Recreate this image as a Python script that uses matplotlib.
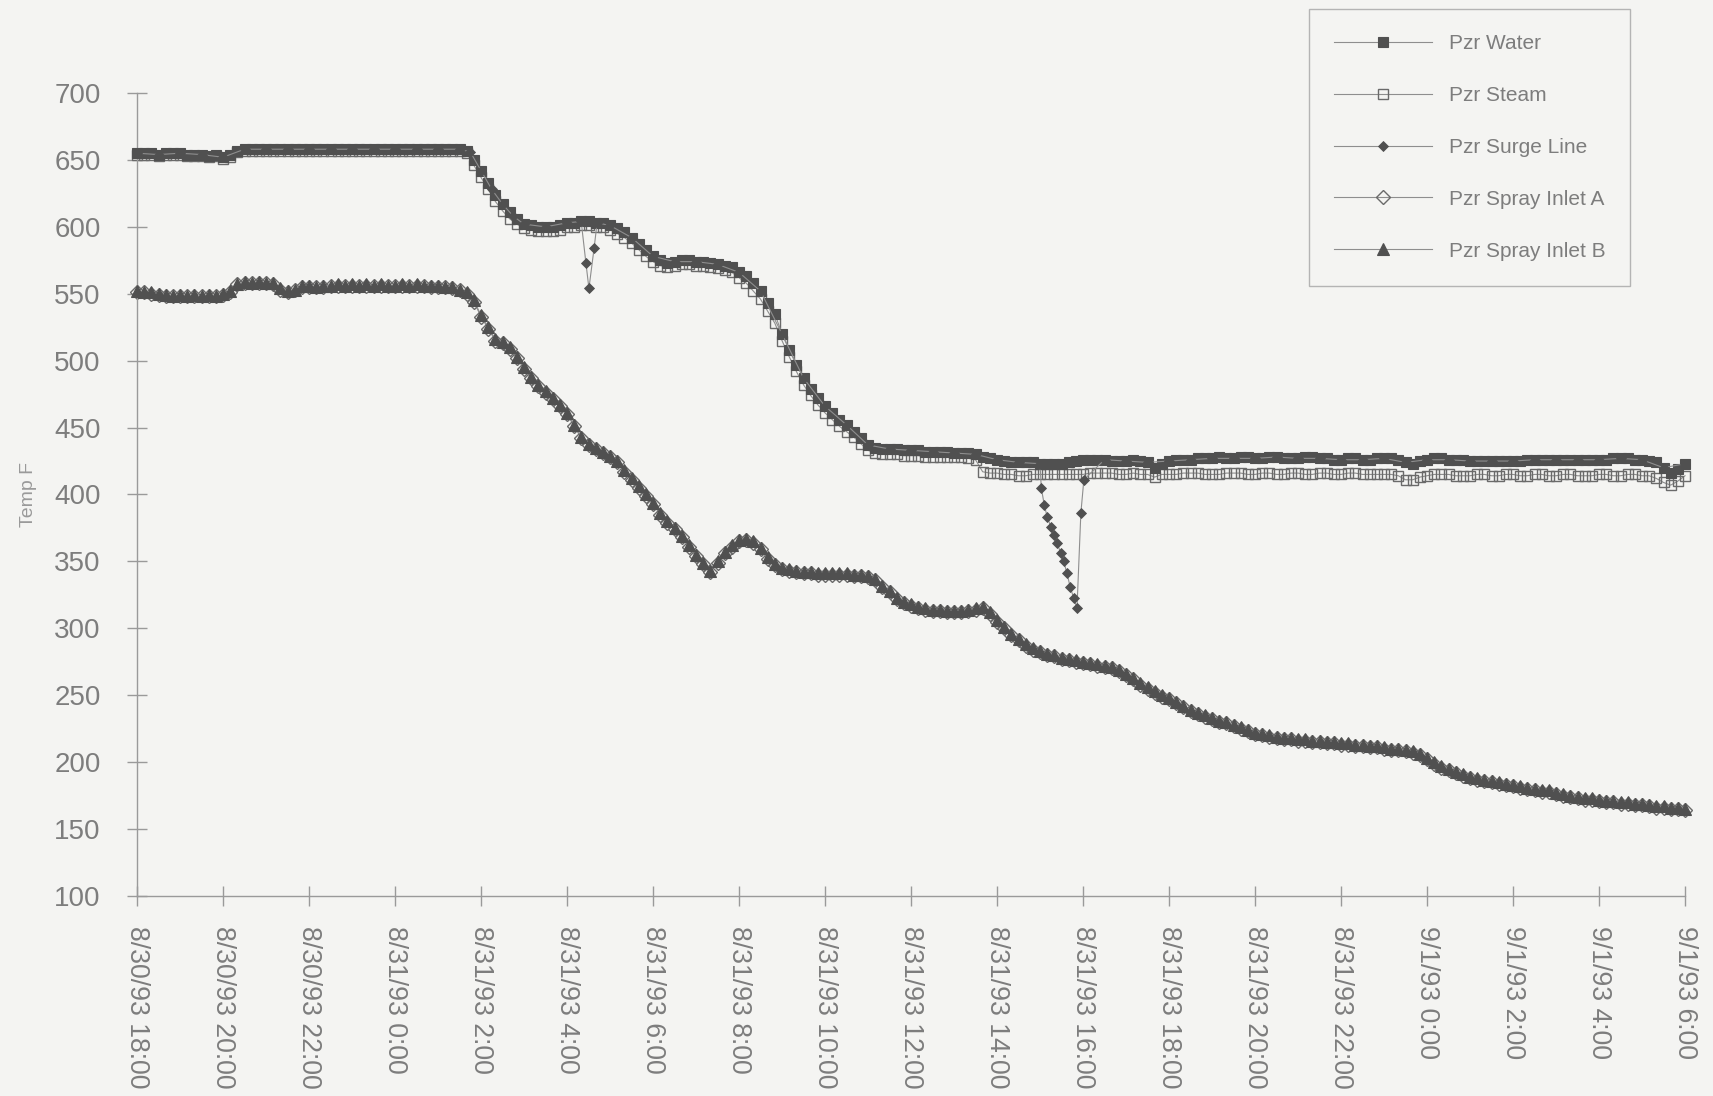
import matplotlib.pyplot as plt
import numpy as np

plt.rcParams['font.family'] = ['Liberation Sans', 'DejaVu Sans']

# readings every 10 minutes, hours counted from 8/30/93 18:00
hours = np.arange(217) / 6.0

tick_labels = ['8/30/93 18:00', '8/30/93 20:00', '8/30/93 22:00', '8/31/93 0:00',
               '8/31/93 2:00', '8/31/93 4:00', '8/31/93 6:00', '8/31/93 8:00',
               '8/31/93 10:00', '8/31/93 12:00', '8/31/93 14:00', '8/31/93 16:00',
               '8/31/93 18:00', '8/31/93 20:00', '8/31/93 22:00', '9/1/93 0:00',
               '9/1/93 2:00', '9/1/93 4:00', '9/1/93 6:00']

pzr_water = [
    655, 655, 655, 654, 655, 655,
    655, 654, 654, 654, 653, 654,
    652, 654, 657, 658, 658, 658,
    658, 658, 658, 658, 658, 658,
    658, 658, 658, 658, 658, 658,
    658, 658, 658, 658, 658, 658,
    658, 658, 658, 658, 658, 658,
    658, 658, 658, 658, 657, 650,
    642, 633, 624, 617, 611, 606,
    602, 601, 600, 600, 600, 601,
    603, 603, 604, 604, 603, 603,
    601, 599, 596, 592, 587, 583,
    578, 575, 573, 574, 575, 575,
    574, 574, 573, 572, 571, 570,
    566, 563, 558, 552, 543, 535,
    520, 508, 497, 487, 479, 472,
    466, 461, 456, 452, 447, 442,
    437, 435, 434, 434, 434, 433,
    433, 433, 432, 432, 432, 432,
    431, 431, 431, 430, 428, 427,
    426, 425, 424, 424, 424, 424,
    423, 423, 423, 423, 424, 425,
    426, 426, 426, 426, 425, 425,
    425, 426, 425, 424, 420, 423,
    425, 426, 426, 426, 427, 427,
    427, 428, 427, 427, 428, 428,
    427, 427, 428, 428, 427, 427,
    427, 428, 428, 427, 427, 426,
    426, 427, 427, 426, 426, 427,
    427, 427, 426, 424, 423, 425,
    426, 427, 427, 426, 426, 426,
    425, 425, 425, 425, 425, 425,
    425, 425, 426, 426, 426, 426,
    426, 426, 426, 426, 426, 426,
    426, 426, 427, 427, 427, 426,
    426, 425, 424, 420, 416, 419,
    423]

pzr_steam = [
    654, 654, 654, 653, 654, 654,
    654, 653, 653, 653, 652, 653,
    651, 652, 656, 657, 657, 657,
    657, 657, 657, 657, 657, 657,
    657, 657, 657, 657, 657, 657,
    657, 657, 657, 657, 657, 657,
    657, 657, 657, 657, 657, 657,
    657, 657, 657, 657, 655, 646,
    637, 628, 619, 612, 606, 602,
    599, 598, 597, 597, 597, 598,
    600, 600, 601, 601, 600, 600,
    598, 595, 592, 588, 583, 578,
    574, 571, 570, 571, 572, 572,
    571, 571, 570, 569, 568, 566,
    562, 558, 552, 546, 537, 528,
    515, 503, 492, 482, 474, 467,
    461, 456, 451, 447, 443, 438,
    433, 431, 430, 430, 430, 429,
    429, 429, 428, 428, 428, 428,
    428, 428, 427, 426, 417, 416,
    416, 415, 415, 414, 414, 415,
    415, 415, 415, 415, 415, 415,
    415, 416, 416, 416, 416, 415,
    415, 416, 415, 415, 413, 415,
    415, 415, 416, 416, 416, 415,
    415, 415, 416, 416, 416, 415,
    415, 416, 416, 415, 415, 416,
    416, 415, 415, 416, 416, 415,
    415, 416, 416, 415, 415, 415,
    415, 415, 414, 411, 411, 413,
    414, 415, 415, 415, 414, 414,
    414, 415, 415, 414, 414, 415,
    415, 414, 414, 415, 415, 414,
    414, 415, 415, 414, 414, 414,
    415, 415, 414, 414, 415, 415,
    414, 414, 412, 409, 407, 410,
    414]

# surge line readings, denser where it drops away from the pressurizer band
surge_hours = [0, 0.5, 1, 1.5, 2, 2.5, 3, 3.5, 4, 4.5, 5, 5.5, 6, 6.5, 7, 7.5,
               7.75, 8, 8.25, 8.5, 8.75, 9, 9.5, 10, 10.33, 10.44, 10.51, 10.63,
               10.7, 11, 11.5, 12, 12.5, 13, 13.5, 14, 14.5, 15, 15.5, 16, 16.5,
               17, 17.5, 18, 18.5, 19, 19.5, 20, 20.5, 21.0, 21.03, 21.1, 21.17,
               21.25, 21.32, 21.4, 21.48, 21.55, 21.63, 21.7, 21.78, 21.86, 21.95,
               22.02, 22.5, 23, 23.5, 24, 24.5, 25, 25.5, 26, 26.5, 27, 27.5, 28,
               28.5, 29, 29.5, 30, 30.5, 31, 31.5, 32, 32.5, 33, 33.5, 34, 34.5,
               35, 35.5, 36]
pzr_surge = [655, 654, 655, 654, 652, 658, 658, 658, 658, 658, 658, 658, 658, 658, 658, 658,
             656, 642, 628, 617, 608, 602, 600, 603, 604, 573, 554, 584,
             603, 601, 592, 578, 574, 574, 572, 566, 552, 520, 487, 466, 452,
             437, 434, 433, 432, 431, 430, 426, 424, 423, 405, 392, 383,
             376, 370, 364, 356, 350, 341, 331, 323, 315, 386,
             411, 426, 425, 424, 425, 426, 427, 427, 427, 428, 427, 427, 426,
             426, 427, 424, 426, 426, 425, 425, 425, 426, 426, 426, 426, 427,
             426, 420, 423]

spray_a = [
    551, 551, 550, 549, 548, 548,
    548, 548, 548, 548, 548, 548,
    549, 551, 557, 558, 558, 558,
    558, 557, 553, 551, 553, 555,
    555, 555, 555, 556, 556, 556,
    556, 556, 556, 556, 556, 556,
    556, 556, 556, 556, 556, 555,
    555, 555, 554, 553, 550, 544,
    533, 524, 515, 513, 509, 502,
    494, 487, 481, 476, 471, 466,
    460, 451, 442, 437, 434, 431,
    428, 424, 417, 411, 405, 399,
    393, 385, 379, 374, 368, 361,
    354, 348, 342, 349, 356, 361,
    365, 366, 364, 359, 352, 347,
    344, 343, 342, 341, 341, 340,
    340, 340, 340, 340, 339, 339,
    338, 336, 331, 327, 322, 319,
    317, 315, 314, 313, 313, 312,
    312, 312, 313, 314, 315, 311,
    305, 300, 295, 291, 287, 284,
    282, 280, 279, 277, 276, 275,
    274, 273, 272, 271, 270, 268,
    265, 262, 258, 255, 252, 249,
    247, 244, 241, 238, 236, 234,
    232, 230, 229, 227, 225, 223,
    221, 220, 219, 218, 217, 217,
    216, 216, 215, 215, 214, 214,
    213, 213, 212, 212, 211, 211,
    210, 209, 209, 208, 207, 205,
    202, 199, 196, 194, 192, 190,
    188, 187, 186, 185, 184, 183,
    182, 181, 180, 179, 178, 178,
    176, 175, 174, 173, 172, 172,
    171, 170, 170, 169, 169, 168,
    168, 167, 166, 166, 165, 165,
    164]

spray_b = [
    552, 551, 551, 550, 549, 548,
    549, 548, 549, 548, 549, 548,
    550, 552, 557, 559, 558, 559,
    558, 558, 554, 552, 553, 556,
    556, 555, 556, 556, 557, 556,
    557, 556, 557, 556, 557, 556,
    556, 557, 556, 557, 556, 556,
    556, 555, 555, 553, 551, 545,
    534, 525, 516, 514, 510, 503,
    495, 488, 482, 477, 472, 467,
    461, 452, 443, 438, 435, 432,
    429, 425, 418, 412, 406, 400,
    394, 386, 380, 375, 369, 362,
    355, 349, 343, 350, 357, 362,
    366, 367, 365, 360, 353, 348,
    345, 344, 343, 342, 342, 341,
    341, 341, 341, 341, 340, 340,
    339, 337, 332, 328, 323, 320,
    318, 316, 315, 314, 314, 313,
    313, 313, 314, 315, 316, 312,
    306, 301, 296, 292, 288, 285,
    283, 281, 280, 278, 277, 276,
    275, 274, 273, 272, 271, 269,
    266, 263, 259, 256, 253, 250,
    248, 245, 242, 239, 237, 235,
    233, 231, 230, 228, 226, 224,
    222, 221, 220, 219, 218, 218,
    217, 217, 216, 216, 215, 215,
    214, 214, 213, 213, 212, 212,
    211, 210, 210, 209, 208, 206,
    203, 200, 197, 195, 193, 191,
    189, 188, 187, 186, 185, 184,
    183, 182, 181, 180, 179, 179,
    177, 176, 175, 174, 173, 173,
    172, 171, 171, 170, 170, 169,
    169, 168, 167, 167, 166, 166,
    165]

bg = '#f4f4f2'
dark = '#505050'
edge = '#6a6a6a'
line_c = '#8e8e8e'
axis_c = '#9a9a9a'
text_c = '#7d7d7d'

fig = plt.figure(figsize=(17.13, 10.96), dpi=100, facecolor=bg)
ax = fig.add_axes([137 / 1713, 1 - 896 / 1096, (1685 - 137) / 1713, (896 - 93) / 1096])
ax.set_facecolor(bg)

common = dict(color=line_c, lw=0.8, clip_on=False)
h_steam, = ax.plot(hours, pzr_steam, marker='s', ms=7.5, mfc='none', mec=edge, mew=1.0,
                   zorder=2, label='Pzr Steam', **common)
h_water, = ax.plot(hours, pzr_water, marker='s', ms=7.5, mfc=dark, mec=dark, mew=0.8,
                   zorder=3, label='Pzr Water', **common)
h_surge, = ax.plot(surge_hours, pzr_surge, marker='D', ms=5, mfc=dark, mec=dark, mew=0.6,
                   zorder=4, label='Pzr Surge Line', **common)
h_spa, = ax.plot(hours, spray_a, marker='D', ms=7, mfc='none', mec=edge, mew=1.0,
                 zorder=2, label='Pzr Spray Inlet A', **common)
h_spb, = ax.plot(hours, spray_b, marker='^', ms=8, mfc=dark, mec=dark, mew=0.8,
                 zorder=3, label='Pzr Spray Inlet B', **common)

ax.set_xlim(0, 36)
ax.set_ylim(100, 700)
ax.set_xticks(range(0, 37, 2))
ax.set_xticklabels(tick_labels, rotation=270, ha='center', va='top')
ax.set_yticks(range(100, 701, 50))

for side in ['top', 'right']:
    ax.spines[side].set_visible(False)
for side in ['left', 'bottom']:
    ax.spines[side].set_color(axis_c)
    ax.spines[side].set_linewidth(1)

ax.tick_params(direction='inout', length=14.5, width=1, color=axis_c, labelcolor=text_c)
ax.tick_params(axis='y', pad=19, labelsize=20)
ax.tick_params(axis='x', pad=14, labelsize=19.2)

ax.set_ylabel('Temp F', fontsize=14, color='#9a9a9a', labelpad=12)

handles = [h_water, h_steam, h_surge, h_spa, h_spb]
leg = fig.legend(handles, [h.get_label() for h in handles], loc='upper left',
                 bbox_to_anchor=(1309 / 1713, 1 - 9 / 1096), borderaxespad=0,
                 frameon=True, fancybox=False, facecolor=bg, edgecolor='#b4b4b4',
                 framealpha=1, fontsize=15, labelspacing=1.58, handlelength=4.7,
                 handletextpad=0.8, borderpad=1.2, labelcolor=text_c, markerscale=1.0)
leg.get_frame().set_linewidth(1.0)

fig.savefig('out.png', dpi=100, facecolor=bg)
